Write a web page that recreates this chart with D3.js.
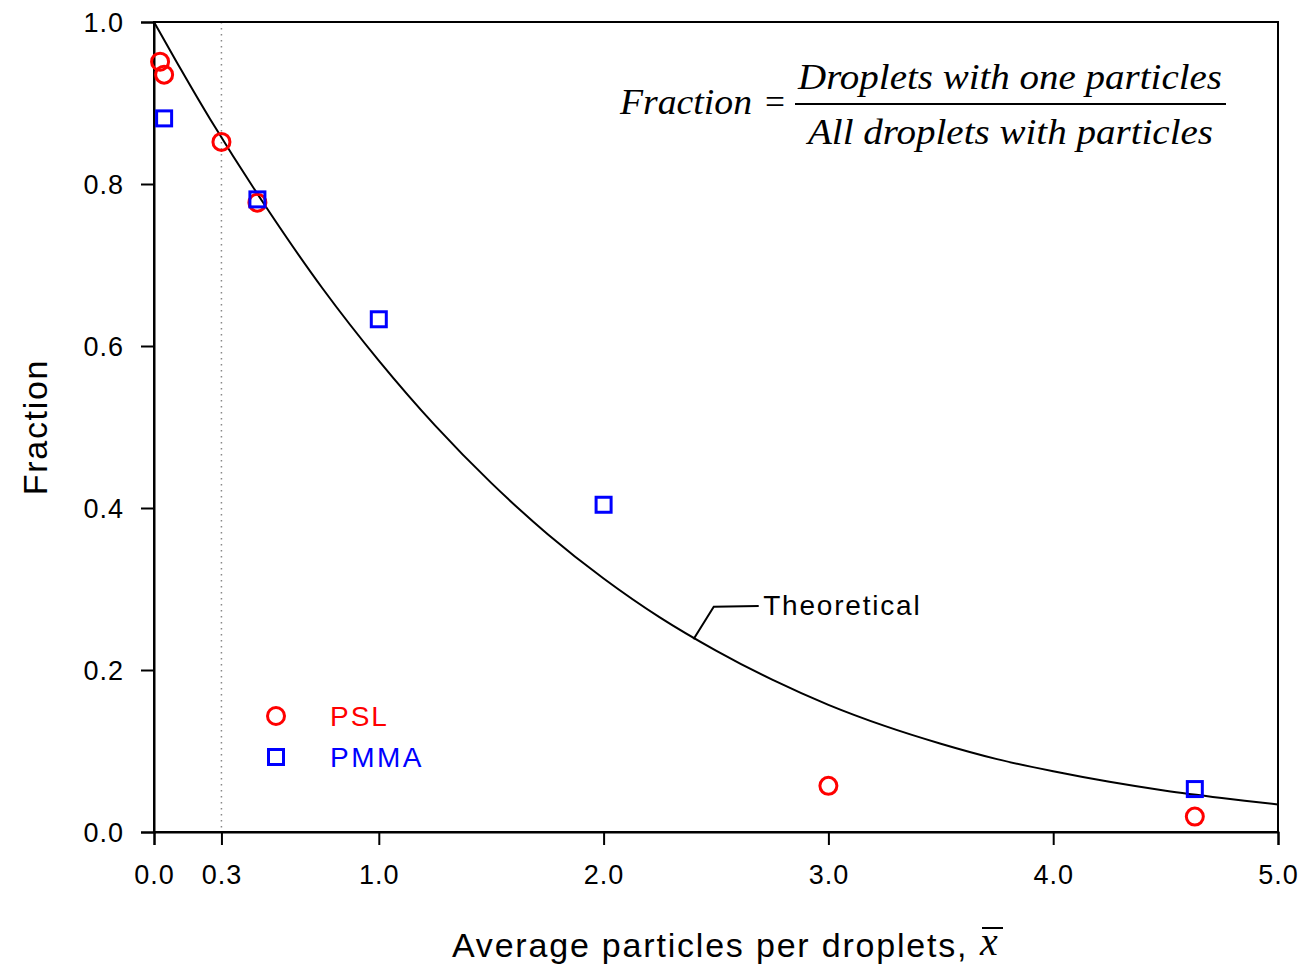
<!DOCTYPE html>
<html>
<head>
<meta charset="utf-8">
<script src="https://cdn.jsdelivr.net/npm/d3@7"></script>
<style>
  body { margin: 0; background: #fff; }
</style>
</head>
<body>
<div id="mainContainer"></div>
<script>
// PSL (red circles)
var pslX = [0.027, 0.045, 0.30, 0.46, 3.00, 4.63];
var pslY = [0.951, 0.935, 0.852, 0.777, 0.057, 0.019];
// PMMA (blue squares)
var pmmaX = [0.045, 0.46, 1.00, 2.00, 4.63];
var pmmaY = [0.881, 0.781, 0.633, 0.404, 0.053];
// theoretical curve
var theoX = [0, 0.1, 0.25, 0.5, 0.75, 1.0, 1.25, 1.5, 1.75, 2.0, 2.25, 2.5, 2.75, 3.0, 3.25, 3.5, 3.75, 4.0, 4.25, 4.5, 4.75, 5.0];
var theoY = [1.0, 0.951, 0.880, 0.771, 0.671, 0.582, 0.502, 0.431, 0.368, 0.313, 0.265, 0.224, 0.188, 0.157, 0.131, 0.109, 0.090, 0.075, 0.062, 0.051, 0.042, 0.034];
var xTicks = [0, 0.3, 1, 2, 3, 4, 5];
var yTicks = [0, 0.2, 0.4, 0.6, 0.8, 1.0];

var sans = '"Liberation Sans", Arial, sans-serif';
var serif = '"Liberation Serif", "Times New Roman", serif';

var margin = { top: 22, right: 25, bottom: 138, left: 154 },
    width = 1303 - margin.left - margin.right,
    height = 970 - margin.top - margin.bottom;

var svg = d3.select('#mainContainer').append('svg')
    .attr('width', 1303)
    .attr('height', 970)
    .style('font-family', sans);

var g = svg.append('g')
    .attr('transform', 'translate(' + margin.left + ',' + margin.top + ')');

var xscale = d3.scaleLinear().domain([0, 5]).range([0, width]);
var yscale = d3.scaleLinear().domain([0, 1]).range([height, 0]);

// dotted line at 0.3
g.append('line')
    .attr('x1', xscale(0.3)).attr('x2', xscale(0.3))
    .attr('y1', yscale(1)).attr('y2', yscale(0))
    .attr('stroke', '#888').attr('stroke-width', 1.5)
    .attr('stroke-dasharray', '1.5,4.5');

// frame
g.append('rect')
    .attr('width', width).attr('height', height)
    .attr('fill', 'none').attr('stroke', '#000').attr('stroke-width', 2);

var xAxis = g.append('g')
    .attr('transform', 'translate(0,' + height + ')')
    .call(d3.axisBottom(xscale).tickValues(xTicks).tickFormat(d3.format('.1f')).tickSize(13).tickPadding(20));
var yAxis = g.append('g')
    .call(d3.axisLeft(yscale).tickValues(yTicks).tickFormat(d3.format('.1f')).tickSize(13).tickPadding(17));

[xAxis, yAxis].forEach(function (a) {
    a.select('.domain').attr('stroke-width', 2);
    a.selectAll('.tick line').attr('stroke-width', 2);
    a.selectAll('.tick text')
        .style('font-size', '27px')
        .style('font-family', sans)
        .style('letter-spacing', '1px')
        .attr('fill', '#000');
});
yAxis.selectAll('.tick text').attr('dy', '0.36em');

// theoretical curve
var theo = theoX.map(function (x, i) { return { x: x, y: theoY[i] }; });
var line = d3.line()
    .x(function (d) { return xscale(d.x); })
    .y(function (d) { return yscale(d.y); })
    .curve(d3.curveCatmullRom);
g.append('path')
    .datum(theo)
    .attr('d', line)
    .attr('fill', 'none')
    .attr('stroke', '#000')
    .attr('stroke-width', 2);

// leader line to "Theoretical"
g.append('path')
    .attr('d', 'M' + xscale(2.40) + ',' + yscale(0.238) +
               ' L' + xscale(2.49) + ',' + yscale(0.278) +
               ' L' + xscale(2.69) + ',' + yscale(0.279))
    .attr('fill', 'none').attr('stroke', '#000').attr('stroke-width', 2);
g.append('text')
    .attr('x', xscale(2.71)).attr('y', yscale(0.268))
    .style('font-size', '28px')
    .style('letter-spacing', '1.8px')
    .text('Theoretical');

// data
var psl = pslX.map(function (x, i) { return { x: x, y: pslY[i] }; });
var pmma = pmmaX.map(function (x, i) { return { x: x, y: pmmaY[i] }; });

g.append('g').selectAll('circle')
    .data(psl).enter().append('circle')
    .attr('cx', function (d) { return xscale(d.x); })
    .attr('cy', function (d) { return yscale(d.y); })
    .attr('r', 8.5)
    .attr('fill', 'none').attr('stroke', '#ff0000').attr('stroke-width', 3);

g.append('g').selectAll('rect')
    .data(pmma).enter().append('rect')
    .attr('x', function (d) { return xscale(d.x) - 7.5; })
    .attr('y', function (d) { return yscale(d.y) - 7.5; })
    .attr('width', 15).attr('height', 15)
    .attr('fill', 'none').attr('stroke', '#0000ff').attr('stroke-width', 3);

// legend
var leg = svg.append('g');
leg.append('circle').attr('cx', 276).attr('cy', 716).attr('r', 8.5)
    .attr('fill', 'none').attr('stroke', '#ff0000').attr('stroke-width', 3);
leg.append('text').attr('x', 330).attr('y', 726)
    .style('font-size', '28px').style('letter-spacing', '2px')
    .attr('fill', '#ff0000').text('PSL');
leg.append('rect').attr('x', 268.5).attr('y', 749.5).attr('width', 15).attr('height', 15)
    .attr('fill', 'none').attr('stroke', '#0000ff').attr('stroke-width', 3);
leg.append('text').attr('x', 330).attr('y', 767)
    .style('font-size', '28px').style('letter-spacing', '2.5px')
    .attr('fill', '#0000ff').text('PMMA');

// formula
function serifText(x, y, s, len, italic) {
    return svg.append('text')
        .attr('x', x).attr('y', y)
        .attr('textLength', len).attr('lengthAdjust', 'spacingAndGlyphs')
        .style('font-family', serif)
        .style('font-style', italic ? 'italic' : 'normal')
        .style('font-size', '36px')
        .text(s);
}
serifText(620, 114, 'Fraction', 132, true);
serifText(765, 114, '=', 20, false);
serifText(798, 89, 'Droplets with one particles', 424, true);
svg.append('line').attr('x1', 795).attr('x2', 1226).attr('y1', 104).attr('y2', 104)
    .attr('stroke', '#000').attr('stroke-width', 2);
serifText(808, 144, 'All droplets with particles', 405, true);

// axis titles
svg.append('text')
    .attr('transform', 'translate(47,' + (margin.top + height / 2) + ') rotate(-90)')
    .attr('text-anchor', 'middle')
    .style('font-size', '34px')
    .style('letter-spacing', '1.7px')
    .text('Fraction');

svg.append('text')
    .attr('x', 452).attr('y', 957)
    .style('font-size', '34px')
    .style('letter-spacing', '1.8px')
    .text('Average particles per droplets,');
svg.append('text')
    .attr('x', 980).attr('y', 955)
    .style('font-family', serif)
    .style('font-style', 'italic')
    .style('font-size', '40px')
    .text('x');
svg.append('line')
    .attr('x1', 982).attr('x2', 1003).attr('y1', 928).attr('y2', 928)
    .attr('stroke', '#000').attr('stroke-width', 2);
</script>
</body>
</html>
